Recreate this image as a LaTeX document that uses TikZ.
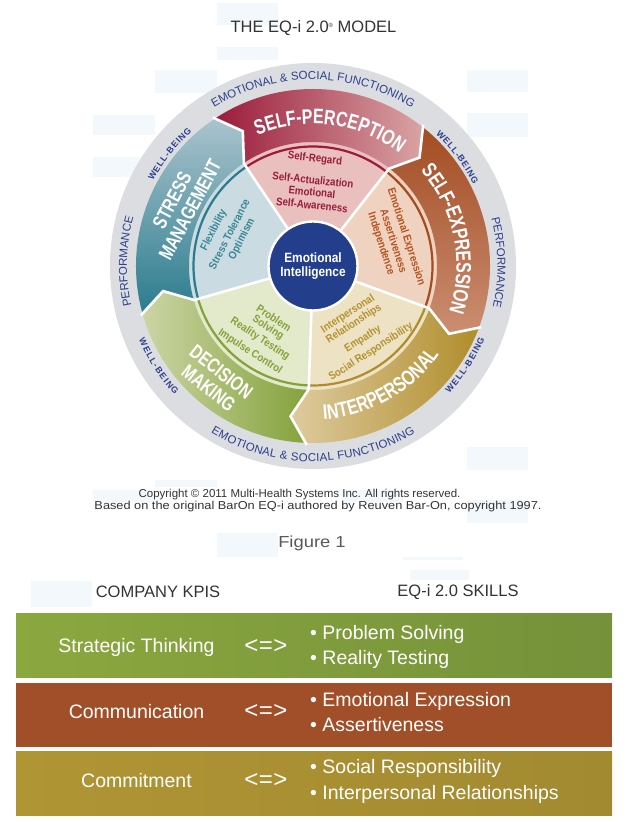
\documentclass[tikz,border=0pt]{standalone}
\usepackage{fontspec}
\setmainfont{Liberation Sans}
\newfontfamily\condfont[FakeStretch=0.76]{Liberation Sans}
\newfontfamily\narrowfont[FakeStretch=0.88]{Liberation Sans}
\usetikzlibrary{decorations.text}

\definecolor{paleblue}{HTML}{F2F8FC}
\definecolor{ringgrey}{HTML}{DCDDE0}
\definecolor{ringblue}{HTML}{2B3F8E}
\definecolor{corenavy}{HTML}{233E8B}
\definecolor{spdark}{HTML}{9A1B3B}
\definecolor{splight}{HTML}{D9A3A3}
\definecolor{spsoft}{HTML}{E9C0BE}
\definecolor{sedark}{HTML}{A34C22}
\definecolor{selight}{HTML}{CB8E72}
\definecolor{sesoft}{HTML}{EFD2BF}
\definecolor{setext}{HTML}{B5531F}
\definecolor{ipdark}{HTML}{B08D2B}
\definecolor{iplight}{HTML}{DECB9F}
\definecolor{ipsoft}{HTML}{EDE2C4}
\definecolor{iptext}{HTML}{B4922E}
\definecolor{dmdark}{HTML}{83A23A}
\definecolor{dmlight}{HTML}{CBD5A5}
\definecolor{dmsoft}{HTML}{E3E9CB}
\definecolor{smdark}{HTML}{2A7B8D}
\definecolor{smlight}{HTML}{A9C3CD}
\definecolor{smsoft}{HTML}{CADCE2}
\definecolor{smtext}{HTML}{3A8596}
\definecolor{kpigreenA}{HTML}{8BA83F}
\definecolor{kpigreenB}{HTML}{75913A}
\definecolor{kpibrown}{HTML}{A14F29}
\definecolor{kpigoldA}{HTML}{B09534}
\definecolor{kpigoldB}{HTML}{A28A31}
\definecolor{inktext}{HTML}{333333}

\newcommand{\bandshape}[2]{(#1:177) arc[start angle=#1, end angle=#2, radius=177] -- ({#2-6.5}:152) -- (#2:124) arc[start angle=#2, end angle=#1, radius=124] -- ({#1-6.5}:152) -- cycle}
\newcommand{\sectorshape}[2]{(0,0) -- (#1:124) arc[start angle=#1, end angle=#2, radius=124] -- cycle}

\begin{document}
\begin{tikzpicture}[x=1pt, y=1pt,
  wheelgap/.style={draw=white, line width=2.6pt, line join=miter},
  ringword/.style={decorate, decoration={text along path, text align=fit to path, text color=ringblue, text={|\fontsize{11.5}{12}\selectfont|#1}}},
  wellbeing/.style={decorate, decoration={text along path, text align=fit to path, text color=ringblue, text={|\bfseries\fontsize{8.8}{9}\selectfont|WELL-BEING}}},
  bandtitle/.style={decorate, decoration={text along path, text align=fit to path, text color=white, text={|\condfont\bfseries\fontsize{21}{21}\selectfont|#1}}},
  bandword/.style={text=white, align=center, inner sep=0pt, font=\condfont\bfseries\fontsize{20}{20.5}\selectfont},
  skill/.style={inner sep=0pt, align=center, font=\narrowfont\bfseries\fontsize{11}{11.5}\selectfont},
  core/.style={circle, fill=corenavy, draw=white, line width=2.4pt, minimum size=89pt, inner sep=0pt, text=white, align=center, font=\narrowfont\bfseries\fontsize{13.5}{14}\selectfont},
  kpiband/.style={minimum width=596pt, minimum height=64pt, inner sep=0pt},
  kpitext/.style={text=white, inner sep=0pt, font=\fontsize{19.5}{20}\selectfont},
  headtext/.style={text=inktext, inner sep=0pt, font=\fontsize{16.5}{17}\selectfont}]

\useasboundingbox (0,0) rectangle (632,822);
\fill[white] (0,0) rectangle (632,822);
\foreach \xa/\ya/\xb/\yb in {217/3/278/25, 217/47/278/60, 155/70/217/93, 467/70/528/92,
  93/115/155/135, 93/157/140/177, 467/113/528/137, 467/447/528/470, 93/490/155/502,
  155/480/217/487, 217/533/278/557, 342/490/403/502, 467/500/528/523, 403/557/463/560,
  31/581/92/607, 410/570/469/580}
  \fill[paleblue] (\xa,822-\ya) rectangle (\xb,822-\yb);

\node[headtext] (title) at (313.5,794) {THE EQ-i 2.0\raisebox{0.6ex}{\fontsize{6}{6}\selectfont ®} MODEL};

\begin{scope}[shift={(313,556)}]
\fill[ringgrey] (0,0) circle[radius=203];

\fill[smsoft] \sectorshape{196}{124};
\fill[spsoft] \sectorshape{124}{52};
\fill[sesoft] \sectorshape{52}{-20};
\fill[ipsoft] \sectorshape{-20}{-92};
\fill[dmsoft] \sectorshape{-92}{-164};

\draw[smdark, line width=2.2pt] (196:119.5) arc[start angle=196, end angle=124, radius=119.5];
\draw[spdark, line width=2.2pt] (124:119.5) arc[start angle=124, end angle=52, radius=119.5];
\draw[sedark, line width=2.2pt] (52:119.5) arc[start angle=52, end angle=-20, radius=119.5];
\draw[ipdark, line width=2.2pt] (-20:119.5) arc[start angle=-20, end angle=-92, radius=119.5];
\draw[dmdark, line width=2.2pt] (-92:119.5) arc[start angle=-92, end angle=-164, radius=119.5];

\shade[top color=smlight, middle color=smdark!75!smlight, bottom color=smdark] \bandshape{196}{124};
\shade[left color=spdark, middle color=spdark!90!splight, right color=splight] \bandshape{124}{52};
\shade[top color=sedark, middle color=sedark!85!selight, bottom color=selight] \bandshape{52}{-20};
\shade[left color=iplight, middle color=ipdark!85!iplight, right color=ipdark] \bandshape{-20}{-92};
\shade[left color=dmlight, middle color=dmdark!75!dmlight, right color=dmdark] \bandshape{-92}{-164};

\foreach \b in {196,124,52,-20,-92}
  \draw[wheelgap] (\b:179) -- ({\b-6.5}:152) -- (\b:123.5) -- (\b:44);

\path[ringword={EMOTIONAL {\&} SOCIAL FUNCTIONING}] (122:186.5) arc[start angle=122, end angle=58, radius=186.5];
\path[ringword={EMOTIONAL {\&} SOCIAL FUNCTIONING}] (238.5:195.5) arc[start angle=238.5, end angle=301.5, radius=195.5];
\path[ringword={PERFORMANCE}] (192.4:186) arc[start angle=192.4, end angle=165.1, radius=186];
\path[ringword={PERFORMANCE}] (14.9:184.5) arc[start angle=14.9, end angle=-12.7, radius=184.5];
\path[wellbeing] (152:181) arc[start angle=152, end angle=132, radius=181];
\path[wellbeing] (47:180) arc[start angle=47, end angle=27, radius=180];
\path[wellbeing] (-43:186.5) arc[start angle=-43, end angle=-23, radius=186.5];
\path[wellbeing] (203:189) arc[start angle=203, end angle=223, radius=189];

\path[bandtitle={SELF-PERCEPTION}] (113:142) arc[start angle=113, end angle=52.5, radius=142];
\path[bandtitle={SELF-EXPRESSION}] (41.5:143.5) arc[start angle=41.5, end angle=-18.5, radius=143.5];
\path[bandtitle={INTERPERSONAL}] (-86:154) arc[start angle=-86, end angle=-35, radius=154];
\node[bandword, rotate=-38] (dmword) at (-98,-114) {DECISION\\MAKING};
\node[bandword, rotate=62] (smword) at (-132,61) {STRESS\\MANAGEMENT};

\node[skill, text=spdark, rotate=-6] (regard) at (2,107) {Self-Regard};
\node[skill, text=spdark, rotate=-6] (actual) at (0,86) {Self-Actualization};
\node[skill, text=spdark, rotate=-6] (emoaware) at (-1,74) {Emotional};
\node[skill, text=spdark, rotate=-6] (aware) at (-1,61) {Self-Awareness};

\node[skill, text=setext, rotate=-72] (express) at (93,29) {Emotional Expression};
\node[skill, text=setext, rotate=-72] (assert) at (81,25) {Assertiveness};
\node[skill, text=setext, rotate=-72] (independ) at (68,22) {Independence};

\node[skill, text=iptext, rotate=33] (interp) at (35,-48) {Interpersonal};
\node[skill, text=iptext, rotate=33] (relation) at (41,-58) {Relationships};
\node[skill, text=iptext, rotate=33] (empathy) at (50,-73) {Empathy};
\node[skill, text=iptext, rotate=33] (social) at (58,-86) {Social Responsibility};

\node[skill, text=dmdark, rotate=-33] (problem) at (-39,-52) {Problem};
\node[skill, text=dmdark, rotate=-33] (solving) at (-45,-62) {Solving};
\node[skill, text=dmdark, rotate=-33] (reality) at (-53,-73) {Reality Testing};
\node[skill, text=dmdark, rotate=-33] (impulse) at (-63,-86) {Impulse Control};

\node[skill, text=smtext, rotate=63] (flex) at (-99,36) {Flexibility};
\node[skill, text=smtext, rotate=63] (stress) at (-84,32) {Stress Tolerance};
\node[skill, text=smtext, rotate=63] (optim) at (-71,27) {Optimism};

\node[core] (core) at (0,0) {Emotional\\Intelligence};
\end{scope}

\node[text=inktext, inner sep=0pt, font=\fontsize{11.5}{12}\selectfont] (copyA) at (299.5,327) {Copyright © 2011 Multi-Health Systems Inc. All rights reserved.};
\node[text=inktext, inner sep=0pt, font=\fontsize{11.5}{12}\selectfont] (copyB) at (318,315) {\scalebox{1.11}[1]{Based on the original BarOn EQ-i authored by Reuven Bar-On, copyright 1997.}};
\node[text=black!65, inner sep=0pt, font=\fontsize{16}{16}\selectfont] (figlabel) at (312,279) {\scalebox{1.15}[1]{Figure 1}};

\node[headtext] (kpihead) at (158,230) {COMPANY KPIS};
\node[headtext] (skillhead) at (458,230) {EQ-i 2.0 SKILLS};

\node[kpiband, shade, left color=kpigreenA, right color=kpigreenB] (rowA) at (314,176) {};
\node[kpiband, fill=kpibrown] (rowB) at (314,107) {};
\node[kpiband, shade, left color=kpigoldA, right color=kpigoldB] (rowC) at (314,38) {};

\node[kpitext] (kpiA) at (136.5,175) {Strategic Thinking};
\node[kpitext, font=\fontsize{24}{24}\selectfont] (linkA) at (266,175) {<\kern0.5pt=\kern0.5pt>};
\node[kpitext, anchor=west] (skillA1) at (310,188) {• Problem Solving};
\node[kpitext, anchor=west] (skillA2) at (310,163) {• Reality Testing};

\node[kpitext] (kpiB) at (136.5,110) {Communication};
\node[kpitext, font=\fontsize{24}{24}\selectfont] (linkB) at (266,110) {<\kern0.5pt=\kern0.5pt>};
\node[kpitext, anchor=west] (skillB1) at (310,121) {• Emotional Expression};
\node[kpitext, anchor=west] (skillB2) at (310,97) {• Assertiveness};

\node[kpitext] (kpiC) at (136.5,41) {Commitment};
\node[kpitext, font=\fontsize{24}{24}\selectfont] (linkC) at (266,41) {<\kern0.5pt=\kern0.5pt>};
\node[kpitext, anchor=west] (skillC1) at (310,54) {• Social Responsibility};
\node[kpitext, anchor=west] (skillC2) at (310,28) {• Interpersonal Relationships};
\end{tikzpicture}
\end{document}
